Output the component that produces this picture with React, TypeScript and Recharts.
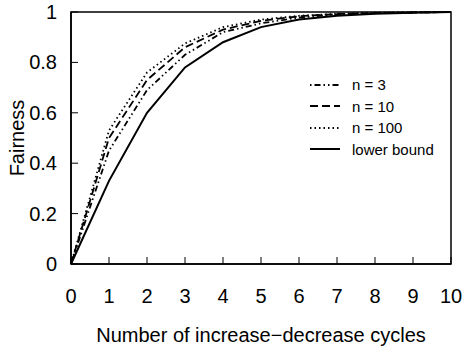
import { LineChart, Line, XAxis, YAxis, ReferenceArea } from "recharts";

const cycles = [0, 1, 2, 3, 4, 5, 6, 7, 8, 9, 10];
const n3 = [0, 0.45, 0.69, 0.83, 0.92, 0.955, 0.978, 0.99, 0.995, 0.998, 1];
const n10 = [0, 0.5, 0.73, 0.86, 0.93, 0.965, 0.983, 0.992, 0.996, 0.998, 1];
const n100 = [0, 0.53, 0.76, 0.875, 0.94, 0.97, 0.985, 0.993, 0.997, 0.999, 1];
const lowerBound = [0, 0.33, 0.6, 0.78, 0.88, 0.94, 0.97, 0.985, 0.993, 0.997, 1];
const yTicks = [0, 0.2, 0.4, 0.6, 0.8, 1];

const data = cycles.map((c, i) => ({
  c,
  n3: n3[i],
  n10: n10[i],
  n100: n100[i],
  lower: lowerBound[i],
}));

const font = "'Liberation Sans', Arial, sans-serif";

const series = [
  { key: "n3", label: "n = 3", dash: "1.5 3 6 3 1.5 3" },
  { key: "n10", label: "n = 10", dash: "8 4" },
  { key: "n100", label: "n = 100", dash: "1.5 3" },
  { key: "lower", label: "lower bound", dash: undefined },
];

const XTick = (props: any) => {
  const { x, y, payload } = props;
  return (
    <g>
      <line x1={x} y1={y} x2={x} y2={y - 7} stroke="#000" strokeWidth={1} />
      <text x={x} y={y + 39} textAnchor="middle" fontSize={20} fontFamily={font} fill="#000">
        {payload.value}
      </text>
    </g>
  );
};

const YTick = (props: any) => {
  const { x, y, payload } = props;
  const v = payload.value;
  const label = v === 0 || v === 1 ? String(v) : v.toFixed(1);
  return (
    <g>
      <line x1={x} y1={y} x2={x + 7} y2={y} stroke="#000" strokeWidth={1} />
      <text x={x - 14} y={y + 7} textAnchor="end" fontSize={20} fontFamily={font} fill="#000">
        {label}
      </text>
    </g>
  );
};

const FairnessLabel = () => (
  <text
    x={24}
    y={138}
    transform="rotate(-90 24 138)"
    textAnchor="middle"
    fontSize={20}
    fontFamily={font}
    fill="#000"
  >
    Fairness
  </text>
);

const LegendBox = () => (
  <div
    style={{
      position: "absolute",
      left: 310,
      top: 74,
      fontFamily: font,
      fontSize: 15,
      lineHeight: "21.5px",
    }}
  >
    {series.map((s) => (
      <div key={s.key} style={{ display: "flex", alignItems: "center" }}>
        <svg width={42} height={10}>
          <line x1={0} y1={5} x2={30} y2={5} stroke="#000" strokeWidth={2} strokeDasharray={s.dash} />
        </svg>
        <span>{s.label}</span>
      </div>
    ))}
  </div>
);

export default function App() {
  return (
    <div style={{ position: "absolute", left: 0, top: 0, width: 463, height: 350, background: "#fff" }}>
      <LineChart width={463} height={350} data={data} margin={{ top: 12, right: 12, bottom: 0, left: 0 }}>
        <XAxis
          dataKey="c"
          type="number"
          domain={[0, 10]}
          ticks={cycles}
          height={86}
          tickSize={0}
          tickMargin={0}
          tick={<XTick />}
          axisLine={{ stroke: "#000", strokeWidth: 1.5 }}
          label={{
            value: "Number of increase\u2212decrease cycles",
            position: "insideBottom",
            offset: 8,
            fontSize: 20,
            fontFamily: font,
            fill: "#000",
          }}
        />
        <YAxis
          type="number"
          domain={[0, 1]}
          ticks={yTicks}
          width={71}
          tickSize={0}
          tickMargin={0}
          tick={<YTick />}
          axisLine={{ stroke: "#000", strokeWidth: 1.5 }}
          label={<FairnessLabel />}
        />
        <ReferenceArea x1={0} x2={10} y1={0} y2={1} fill="none" stroke="#000" strokeWidth={1.5} ifOverflow="visible" />
        {series.map((s) => (
          <Line
            key={s.key}
            dataKey={s.key}
            type="linear"
            stroke="#000"
            strokeWidth={s.key === "lower" ? 2 : 1.8}
            strokeDasharray={s.dash}
            dot={false}
            activeDot={false}
            isAnimationActive={false}
          />
        ))}
      </LineChart>
      <LegendBox />
    </div>
  );
}
